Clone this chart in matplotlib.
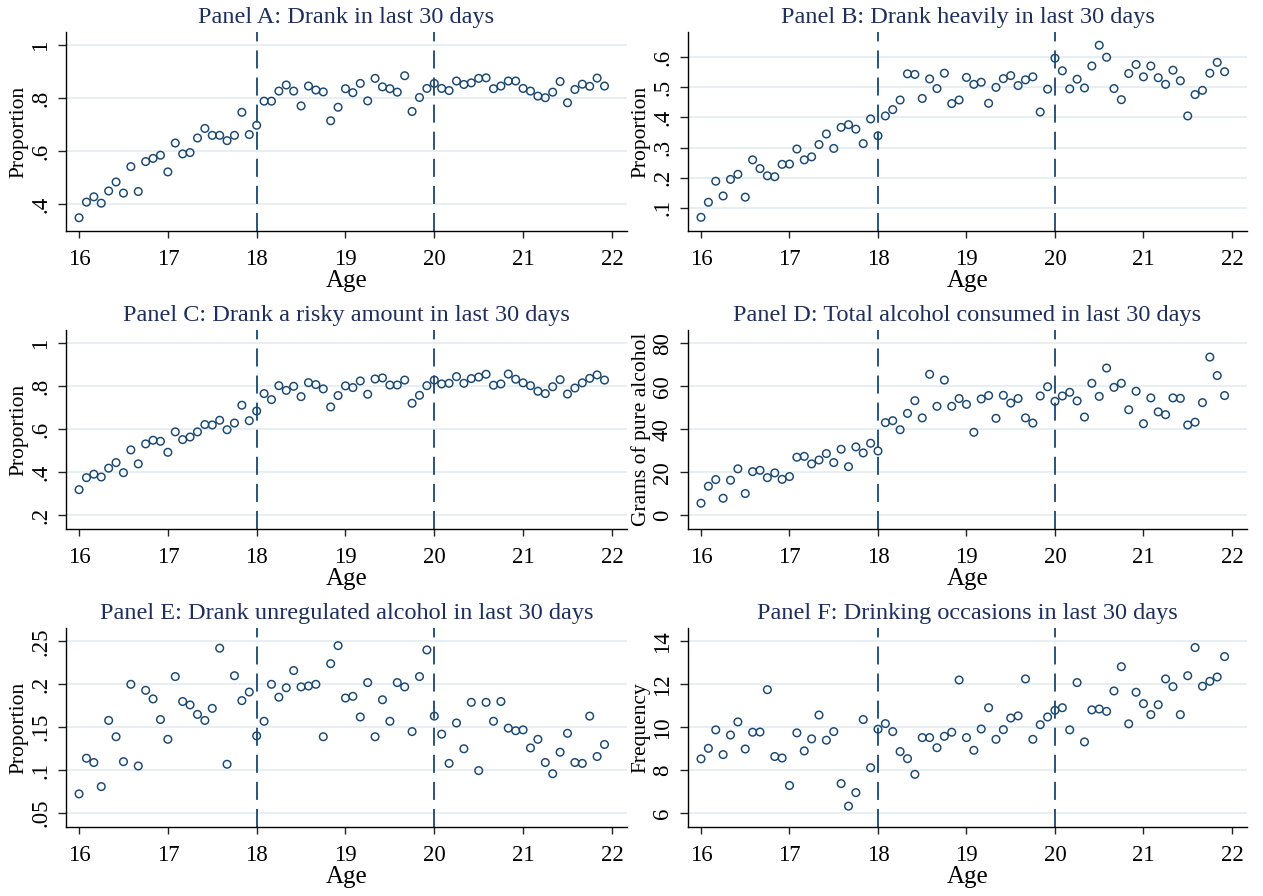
import numpy as np
import matplotlib
matplotlib.use("Agg")
import matplotlib.pyplot as plt

# ---------------- data ----------------
age = [16 + m / 12 for m in range(72)]

drank_30 = [0.348, 0.407, 0.427, 0.403, 0.449, 0.483, 0.441, 0.541, 0.447, 0.560,
            0.572, 0.584, 0.521, 0.630, 0.589, 0.594, 0.649, 0.685, 0.659, 0.659,
            0.639, 0.659, 0.746, 0.662, 0.697, 0.788, 0.788, 0.826, 0.849, 0.826,
            0.770, 0.845, 0.830, 0.823, 0.714, 0.765, 0.835, 0.820, 0.855, 0.789,
            0.874, 0.842, 0.835, 0.822, 0.884, 0.749, 0.802, 0.836, 0.855, 0.836,
            0.828, 0.864, 0.851, 0.857, 0.874, 0.876, 0.835, 0.845, 0.864, 0.864,
            0.836, 0.826, 0.807, 0.801, 0.822, 0.862, 0.782, 0.832, 0.852, 0.844,
            0.875, 0.845]

drank_heavy = [0.068, 0.118, 0.188, 0.139, 0.194, 0.211, 0.135, 0.259, 0.230, 0.206,
               0.203, 0.244, 0.245, 0.295, 0.259, 0.269, 0.310, 0.345, 0.297, 0.367,
               0.376, 0.361, 0.313, 0.395, 0.339, 0.405, 0.426, 0.458, 0.545, 0.543,
               0.463, 0.528, 0.496, 0.547, 0.446, 0.458, 0.533, 0.510, 0.517, 0.447,
               0.500, 0.529, 0.539, 0.506, 0.525, 0.535, 0.418, 0.494, 0.597, 0.555,
               0.495, 0.527, 0.498, 0.571, 0.640, 0.600, 0.496, 0.459, 0.546, 0.576,
               0.535, 0.571, 0.532, 0.510, 0.557, 0.522, 0.405, 0.476, 0.490, 0.547,
               0.583, 0.552]

drank_risky = [0.319, 0.375, 0.391, 0.378, 0.419, 0.445, 0.398, 0.504, 0.439, 0.532,
               0.549, 0.544, 0.493, 0.588, 0.552, 0.564, 0.588, 0.622, 0.620, 0.642,
               0.598, 0.629, 0.712, 0.640, 0.685, 0.766, 0.738, 0.803, 0.781, 0.800,
               0.752, 0.817, 0.808, 0.788, 0.704, 0.757, 0.802, 0.794, 0.825, 0.763,
               0.834, 0.839, 0.806, 0.806, 0.829, 0.721, 0.758, 0.803, 0.829, 0.811,
               0.814, 0.845, 0.814, 0.836, 0.843, 0.856, 0.805, 0.811, 0.857, 0.833,
               0.816, 0.803, 0.777, 0.766, 0.798, 0.831, 0.764, 0.792, 0.816, 0.837,
               0.853, 0.829]

grams_alcohol = [5.6, 13.5, 16.6, 7.9, 16.3, 21.6, 10.1, 20.3, 20.9, 17.5,
                 19.7, 16.7, 18.0, 27.0, 27.4, 23.9, 25.7, 28.7, 24.5, 30.7,
                 22.6, 31.8, 29.0, 33.5, 29.9, 43.1, 44.0, 39.8, 47.4, 53.3,
                 45.3, 65.6, 50.7, 62.9, 50.7, 54.3, 51.6, 38.6, 54.1, 55.7,
                 45.1, 55.8, 52.2, 54.3, 45.3, 42.9, 55.5, 59.8, 53.0, 55.5,
                 57.2, 53.2, 45.7, 61.4, 55.3, 68.5, 59.5, 61.4, 49.1, 57.7,
                 42.6, 54.6, 48.1, 46.8, 54.6, 54.4, 42.0, 43.3, 52.4, 73.6,
                 65.0, 55.7]

unregulated = [0.0725, 0.114, 0.109, 0.081, 0.158, 0.139, 0.110, 0.200, 0.105, 0.193,
               0.183, 0.159, 0.136, 0.209, 0.180, 0.176, 0.165, 0.158, 0.172, 0.242,
               0.107, 0.210, 0.181, 0.191, 0.140, 0.157, 0.200, 0.185, 0.196, 0.216,
               0.197, 0.198, 0.200, 0.139, 0.224, 0.245, 0.184, 0.186, 0.162, 0.202,
               0.139, 0.182, 0.157, 0.202, 0.197, 0.145, 0.209, 0.240, 0.163, 0.142,
               0.108, 0.155, 0.125, 0.179, 0.0996, 0.179, 0.157, 0.180, 0.149, 0.146,
               0.147, 0.126, 0.136, 0.109, 0.096, 0.121, 0.143, 0.109, 0.108, 0.163,
               0.116, 0.130]

occasions = [8.53, 9.02, 9.88, 8.73, 9.64, 10.25, 8.99, 9.77, 9.78, 11.75,
             8.64, 8.57, 7.29, 9.74, 8.90, 9.46, 10.57, 9.40, 9.80, 7.38,
             6.33, 6.96, 10.36, 8.12, 9.91, 10.17, 9.80, 8.87, 8.54, 7.81,
             9.52, 9.52, 9.05, 9.58, 9.77, 12.20, 9.52, 8.93, 9.92, 10.91,
             9.44, 9.89, 10.43, 10.53, 12.25, 9.44, 10.12, 10.48, 10.79, 10.91,
             9.88, 12.08, 9.32, 10.81, 10.85, 10.74, 11.69, 12.82, 10.16, 11.63,
             11.10, 10.59, 11.05, 12.25, 11.89, 10.59, 12.40, 13.71, 11.91, 12.14,
             12.34, 13.29]

titles = ["Panel A: Drank in last 30 days",
          "Panel B: Drank heavily in last 30 days",
          "Panel C: Drank a risky amount in last 30 days",
          "Panel D: Total alcohol consumed in last 30 days",
          "Panel E: Drank unregulated alcohol in last 30 days",
          "Panel F: Drinking occasions in last 30 days"]
ylabels = ["Proportion", "Proportion", "Proportion", "Grams of pure alcohol",
           "Proportion", "Frequency"]
yticks_list = [[0.4, 0.6, 0.8, 1.0],
               [0.1, 0.2, 0.3, 0.4, 0.5, 0.6],
               [0.2, 0.4, 0.6, 0.8, 1.0],
               [0, 20, 40, 60, 80],
               [0.05, 0.10, 0.15, 0.20, 0.25],
               [6, 8, 10, 12, 14]]
yticklabels_list = [[".4", ".6", ".8", "1"],
                    [".1", ".2", ".3", ".4", ".5", ".6"],
                    [".2", ".4", ".6", ".8", "1"],
                    ["0", "20", "40", "60", "80"],
                    [".05", ".1", ".15", ".2", ".25"],
                    ["6", "8", "10", "12", "14"]]
ylims = [(0.298, 1.049), (0.0225, 0.684), (0.136, 1.062), (-6.4, 86.2),
         (0.034, 0.2655), (5.36, 14.62)]
xticks = [16, 17, 18, 19, 20, 21, 22]
cutoffs = [18, 20]
series = [drank_30, drank_heavy, drank_risky, grams_alcohol, unregulated, occasions]

# ---------------- style ----------------
W, H = 1263, 896
DPI = 100
plt.rcParams['font.family'] = ['Liberation Serif', 'DejaVu Serif']
NAVY = '#1a476f'
TITLE_C = '#1f2f5c'
GRID_C = '#e6eef1'

fig = plt.figure(figsize=(W / DPI, H / DPI), dpi=DPI)
fig.patch.set_facecolor('white')

# pixel boxes: (left, right, top, bottom)
boxes = [(66, 627, 32, 231), (688, 1247, 32, 231),
         (66, 627, 330, 529), (688, 1247, 330, 529),
         (66, 627, 628, 827), (688, 1247, 628, 827)]

lw_dash = 1.3
for i, (l, r, t, b) in enumerate(boxes):
    ax = fig.add_axes([l / W, 1 - b / H, (r - l) / W, (b - t) / H])
    ax.set_xlim(15.853, 22.17)
    ax.set_ylim(*ylims[i])
    for yv in yticks_list[i]:
        ax.axhline(yv, color=GRID_C, lw=1.3, zorder=0)
    for c in cutoffs:
        ax.axvline(c, color=NAVY, lw=lw_dash, dashes=(13.0 / lw_dash, 6.5 / lw_dash),
                   zorder=1)
    ax.scatter(age, series[i], s=30, facecolors='none', edgecolors=NAVY,
               linewidths=1.05, zorder=3)
    for sp in ['top', 'right']:
        ax.spines[sp].set_visible(False)
    for sp in ['left', 'bottom']:
        ax.spines[sp].set_linewidth(1.0)
        ax.spines[sp].set_color('black')
    ax.set_xticks(xticks)
    ax.set_xticklabels([str(x) for x in xticks])
    ax.set_yticks(yticks_list[i])
    ax.set_yticklabels(yticklabels_list[i], rotation=90, va='center')
    ax.tick_params(axis='x', direction='out', length=5.2, width=1.0,
                   labelsize=16.5, colors='#222222', labelcolor='black', pad=8)
    ax.tick_params(axis='y', direction='out', length=5.8, width=1.0,
                   labelsize=16.5, colors='#222222', labelcolor='black', pad=5)
    ax.set_xlabel("Age", fontsize=18, labelpad=0)
    ax.set_ylabel(ylabels[i], fontsize=15.5, labelpad=1)
    ax.set_facecolor('white')
    fig.text((l + r) / 2 / W, 1 - 23 / H - (t - 32) / H, titles[i],
             ha='center', va='baseline', fontsize=17.5, color=TITLE_C)

fig.savefig('out.png', dpi=DPI, facecolor='white')
